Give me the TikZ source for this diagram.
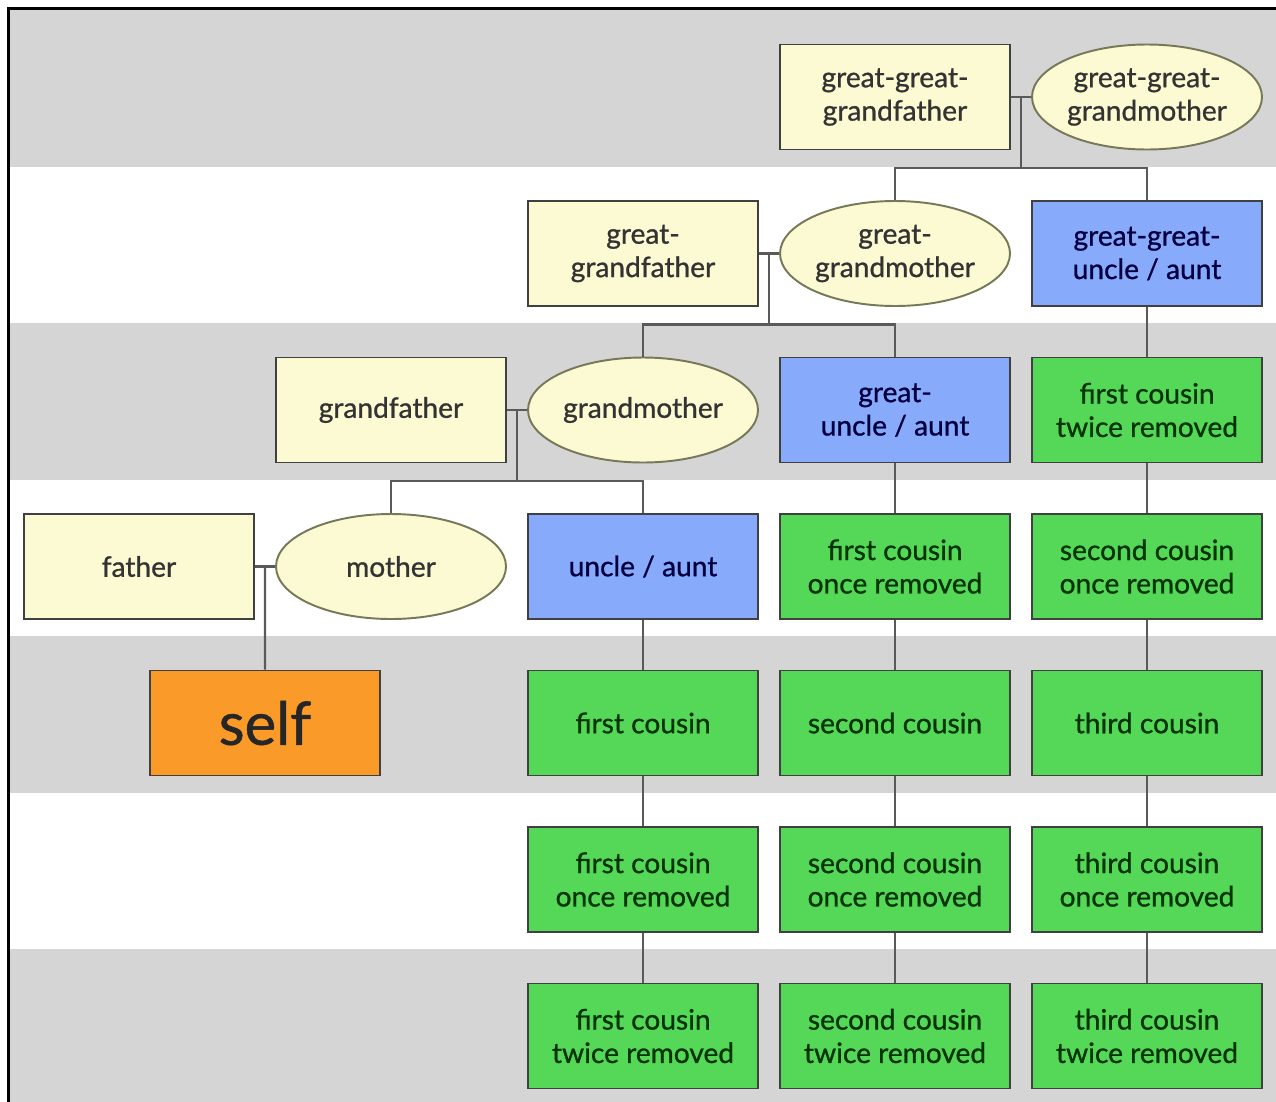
\documentclass[tikz,border=0pt]{standalone}
\usepackage{fontspec}
\setmainfont{Lato}[FakeBold=0.9]
\usepackage{xcolor}
\usetikzlibrary{shapes,arrows,positioning,calc}

\definecolor{bandgray}{HTML}{D5D5D5}
\definecolor{cream}{HTML}{FBFAD2}
\definecolor{creamline}{HTML}{77775A}
\definecolor{uncleblue}{HTML}{88AAFA}
\definecolor{cousingreen}{HTML}{55D858}
\definecolor{selforange}{HTML}{FA9A28}
\definecolor{linkgray}{HTML}{5A5A5A}

\begin{document}
\begin{tikzpicture}[node distance=3.13cm, auto,
    person/.style={rectangle, draw=black!75, line width=1.1pt, minimum width=4.6cm, minimum height=2.1cm, align=center, font=\fontsize{16}{19}\selectfont},
    man/.style={person, fill=cream, text=black!80},
    woman/.style={ellipse, draw=creamline, line width=1.1pt, fill=cream, text=black!80, minimum width=4.6cm, minimum height=2.1cm, inner sep=0pt, align=center, font=\fontsize{16}{19}\selectfont},
    uncle/.style={person, fill=uncleblue, text=blue!25!black},
    cousin/.style={person, fill=cousingreen, text=green!20!black},
    me/.style={person, fill=selforange, text=black!85, font=\fontsize{34}{36}\selectfont},
    link/.style={draw=linkgray, line width=1.2pt}]
    \useasboundingbox (0,0) rectangle (25.52,-22.02);

    % Bands
    \foreach \k in {0,2,4,6}
        \fill[bandgray] (0.18,{-0.2-3.13*\k}) rectangle (25.52,{-0.2-3.13*(\k+1)});
    \draw[line width=1.2pt] (25.52,-0.17) -- (0.17,-0.17) -- (0.17,-22.1);

    % Nodes
    \node (ggf) [man] at (17.9,-1.94) {great-great-\\grandfather};
    \node (ggm) [woman, right of=ggf, node distance=5.04cm] {great-great-\\grandmother};

    \node (gm2) [woman, below of=ggf] {great-\\grandmother};
    \node (gf2) [man, left of=gm2, node distance=5.04cm] {great-\\grandfather};
    \node (ggu) [uncle, below of=ggm] {great-great-\\uncle / aunt};

    \node (gu) [uncle, below of=gm2] {great-\\uncle / aunt};
    \node (gm) [woman, left of=gu, node distance=5.04cm] {grandmother};
    \node (gf) [man, left of=gm, node distance=5.04cm] {grandfather};
    \node (fctr_a) [cousin, below of=ggu] {first cousin\\twice removed};

    \node (ua) [uncle, below of=gm] {uncle / aunt};
    \node (mo) [woman, left of=ua, node distance=5.04cm] {mother};
    \node (fa) [man, left of=mo, node distance=5.04cm] {father};
    \node (fcor_a) [cousin, below of=gu] {first cousin\\once removed};
    \node (scor_a) [cousin, below of=fctr_a] {second cousin\\once removed};

    \node (self) [me, below of=fa, xshift=2.52cm] {self};
    \node (fc) [cousin, below of=ua] {first cousin};
    \node (sc) [cousin, below of=fcor_a] {second cousin};
    \node (tc) [cousin, below of=scor_a] {third cousin};

    \node (fcor_b) [cousin, below of=fc] {first cousin\\once removed};
    \node (scor_b) [cousin, below of=sc] {second cousin\\once removed};
    \node (tcor) [cousin, below of=tc] {third cousin\\once removed};

    \node (fctr_b) [cousin, below of=fcor_b] {first cousin\\twice removed};
    \node (sctr) [cousin, below of=scor_b] {second cousin\\twice removed};
    \node (tctr) [cousin, below of=tcor] {third cousin\\twice removed};

    % Couples
    \coordinate (m1) at ($(ggf.east)!0.5!(ggm.west)$);
    \coordinate (j1) at ($(m1)+(0,-1.42)$);
    \coordinate (m2) at ($(gf2.east)!0.5!(gm2.west)$);
    \coordinate (j2) at ($(m2)+(0,-1.42)$);
    \coordinate (m3) at ($(gf.east)!0.5!(gm.west)$);
    \coordinate (j3) at ($(m3)+(0,-1.42)$);
    \coordinate (m4) at ($(fa.east)!0.5!(mo.west)$);

    % Edges
    \draw[link] (ggf) -- (ggm);
    \draw[link] (m1) -- (j1);
    \draw[link] (gm2) |- (j1) -| (ggu);
    \draw[link] (gf2) -- (gm2);
    \draw[link] (m2) -- (j2);
    \draw[link] (gm) |- (j2) -| (gu);
    \draw[link] (gf) -- (gm);
    \draw[link] (m3) -- (j3);
    \draw[link] (mo) |- (j3) -| (ua);
    \draw[link] (fa) -- (mo);
    \draw[link] (m4) -- (self);
    \draw[link] (ua) -- (fc) -- (fcor_b) -- (fctr_b);
    \draw[link] (gu) -- (fcor_a) -- (sc) -- (scor_b) -- (sctr);
    \draw[link] (ggu) -- (fctr_a) -- (scor_a) -- (tc) -- (tcor) -- (tctr);
\end{tikzpicture}
\end{document}
